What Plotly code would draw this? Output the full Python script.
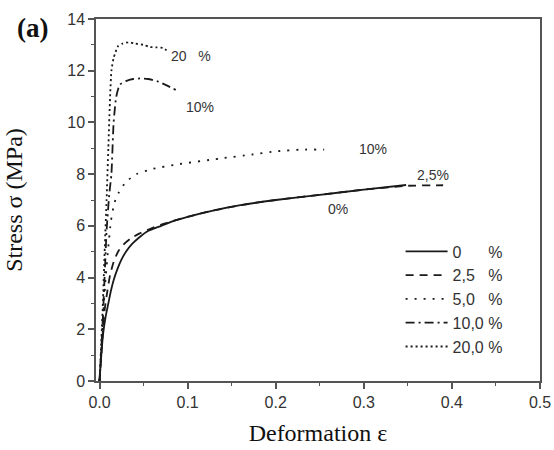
import plotly.graph_objects as go

# strain (ε) and stress (MPa) for each curve
eps_0 = [0, 0.002, 0.004, 0.007, 0.01, 0.013, 0.016, 0.02, 0.025, 0.03, 0.037, 0.045, 0.055, 0.07, 0.085, 0.1, 0.13, 0.16, 0.2, 0.25, 0.3, 0.348]
sig_0 = [0, 1.0, 1.8, 2.5, 3.0, 3.5, 3.9, 4.3, 4.7, 5.0, 5.3, 5.55, 5.8, 6.0, 6.2, 6.35, 6.6, 6.8, 7.0, 7.2, 7.4, 7.58]

eps_25 = [0, 0.002, 0.004, 0.006, 0.009, 0.012, 0.016, 0.021, 0.028, 0.035, 0.045, 0.055, 0.07, 0.085, 0.1, 0.13, 0.16, 0.2, 0.25, 0.3, 0.35, 0.39]
sig_25 = [0, 1.0, 2.0, 2.8, 3.5, 4.1, 4.6, 5.0, 5.3, 5.5, 5.7, 5.85, 6.05, 6.2, 6.35, 6.6, 6.8, 7.0, 7.2, 7.4, 7.55, 7.57]

eps_5 = [0, 0.002, 0.004, 0.007, 0.01, 0.013, 0.017, 0.022, 0.03, 0.042, 0.06, 0.087, 0.136, 0.173, 0.2, 0.23, 0.255]
sig_5 = [0, 1.2, 2.5, 4.0, 5.2, 6.2, 6.9, 7.3, 7.7, 8.0, 8.2, 8.37, 8.6, 8.76, 8.88, 8.95, 8.95]

eps_10 = [0, 0.002, 0.004, 0.006, 0.008, 0.011, 0.0135, 0.016, 0.019, 0.023, 0.03, 0.038, 0.046, 0.055, 0.065, 0.075, 0.087]
sig_10 = [0, 1.2, 2.6, 4.2, 5.8, 7.2, 8.0, 10.0, 11.0, 11.46, 11.6, 11.68, 11.7, 11.68, 11.6, 11.45, 11.25]

eps_20 = [0, 0.002, 0.004, 0.006, 0.008, 0.01, 0.012, 0.0135, 0.016, 0.018, 0.021, 0.026, 0.033, 0.04, 0.05, 0.057, 0.065, 0.072, 0.078]
sig_20 = [0, 1.5, 3.2, 5.2, 7.0, 9.0, 11.0, 12.0, 12.5, 12.7, 12.95, 13.05, 13.1, 13.05, 13.0, 12.92, 12.9, 12.88, 12.75]

legend_names = ["0\u00a0\u00a0\u00a0\u00a0\u00a0\u00a0%", "2,5\u00a0\u00a0\u00a0%", "5,0\u00a0\u00a0\u00a0%", "10,0\u00a0%", "20,0\u00a0%"]

curve_labels = ["20\u00a0\u00a0\u00a0%", "10%", "10%", "2,5%", "0%"]
label_x = [0.104, 0.114, 0.31, 0.378, 0.271]
label_y = [12.55, 10.58, 8.96, 7.95, 6.64]

x_ticks = [0.0, 0.1, 0.2, 0.3, 0.4, 0.5]
y_ticks = [0, 2, 4, 6, 8, 10, 12, 14]

col = "#1a1a1a"
series = [
    (eps_0, sig_0, "solid"),
    (eps_25, sig_25, "8px,6px"),
    (eps_5, sig_5, "2px,7px"),
    (eps_10, sig_10, "9px,4px,2px,4px"),
    (eps_20, sig_20, "2px,3px"),
]

fig = go.Figure()
for (xs, ys, dash), name in zip(series, legend_names):
    fig.add_trace(go.Scatter(
        x=xs, y=ys, mode="lines", name=name,
        line=dict(color=col, width=1.8, dash=dash, shape="spline", smoothing=0.5),
    ))

for t, lx, ly in zip(curve_labels, label_x, label_y):
    fig.add_annotation(x=lx, y=ly, text=t, showarrow=False,
                       font=dict(family="Liberation Sans, Arial, sans-serif", size=14, color="#333"))

fig.add_annotation(x=-0.144, y=0.975, xref="paper", yref="paper", text="<b>(a)</b>",
                   xanchor="center", yanchor="middle",
                   showarrow=False, font=dict(family="Liberation Serif, Times New Roman, serif", size=27, color="#111"))

axis_common = dict(
    showgrid=False, zeroline=False, showline=True, linecolor="#555", linewidth=1.5,
    mirror=True, ticks="outside", ticklen=6, tickwidth=1.5, tickcolor="#555",
    tickfont=dict(family="Liberation Sans, Arial, sans-serif", size=16, color="#333"),
    minor=dict(ticks="outside", ticklen=3, tickwidth=1.2, tickcolor="#555"),
    automargin=False,
)

fig.update_xaxes(range=[-0.004, 0.5], tickvals=x_ticks, ticktext=[f"{v:.1f}" for v in x_ticks],
                 minor_dtick=0.05, minor_tick0=0,
                 title=dict(text="Deformation ε", font=dict(family="Liberation Serif, Times New Roman, serif", size=24, color="#111"), standoff=14),
                 **axis_common)
fig.update_yaxes(range=[0, 14], tickvals=y_ticks,
                 minor_dtick=1, minor_tick0=0,
                 title=dict(text="Stress σ (MPa)", font=dict(family="Liberation Serif, Times New Roman, serif", size=24, color="#111"), standoff=38),
                 **axis_common)

fig.update_layout(
    width=554, height=450,
    margin=dict(l=96, r=14, t=19, b=69),
    plot_bgcolor="white", paper_bgcolor="white",
    showlegend=True,
    legend=dict(x=0.686, y=0.405, xanchor="left", yanchor="top", bgcolor="rgba(0,0,0,0)",
                font=dict(family="Liberation Sans, Arial, sans-serif", size=16, color="#333"),
                tracegroupgap=0, itemwidth=42),
)

fig.write_html("out.html")
